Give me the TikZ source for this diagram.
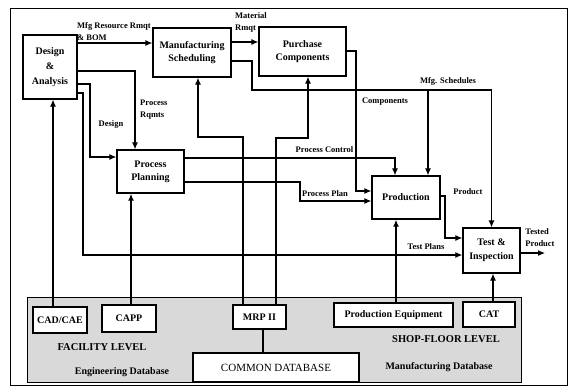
\documentclass[tikz,border=0pt]{standalone}
\usepackage{fontspec}
\setmainfont{Liberation Serif}
\usetikzlibrary{arrows.meta}

\begin{document}
\begin{tikzpicture}[x=1pt, y=-1pt, >={Latex[length=7pt,width=6pt]},
  box/.style={draw, line width=1.3pt, fill=white, align=center, inner sep=0pt,
    font=\fontsize{10}{13}\selectfont\bfseries},
  lbl/.style={font=\fontsize{8.5}{12}\selectfont\bfseries, inner sep=0pt},
  flow/.style={line width=1.1pt},
  feed/.style={line width=1.7pt}]
  \useasboundingbox (0,0) rectangle (578,389);
  % Outer frame
  \draw[line width=1pt] (10,8) rectangle (567,385);
  % Functions
  \node[box, minimum width=54pt, minimum height=64pt, font=\fontsize{10}{15}\selectfont\bfseries] (da) at (50,67) {Design\\\&\\Analysis};
  \node[box, minimum width=78pt, minimum height=49pt] (ms) at (192,52.5) {Manufacturing\\Scheduling};
  \node[box, minimum width=87pt, minimum height=49pt] (pc) at (302.5,51.5) {Purchase\\Components};
  \node[box, minimum width=67pt, minimum height=43pt] (pp) at (150.5,171.5) {Process\\Planning};
  \node[box, minimum width=68pt, minimum height=43pt] (prod) at (406,197.5) {Production};
  \node[box, minimum width=57pt, minimum height=45pt, font=\fontsize{10}{14}\selectfont\bfseries] (ti) at (491.5,250.5) {Test \&\\Inspection};
  % Database levels
  \node[draw, line width=1pt, fill=gray!30, minimum width=494pt, minimum height=85pt] (panel) at (274,339.5) {};
  \node[box, minimum width=54pt, minimum height=26pt] (cad) at (60,320) {CAD/CAE};
  \node[box, minimum width=54pt, minimum height=27pt] (capp) at (129,318.5) {CAPP};
  \node[box, minimum width=53pt, minimum height=24pt] (mrp) at (259.5,317) {MRP II};
  \node[box, minimum width=119pt, minimum height=24pt] (peq) at (393.5,315) {Production Equipment};
  \node[box, minimum width=52pt, minimum height=25pt] (cat) at (489,314.5) {CAT};
  \node[box, minimum width=166pt, minimum height=29pt, font=\fontsize{11}{13}\selectfont] (cdb) at (276,367.5) {COMMON DATABASE};
  \node[font=\fontsize{10.5}{12}\selectfont\bfseries] (faclvl) at (102,347) {FACILITY LEVEL};
  \node[font=\fontsize{10}{12}\selectfont\bfseries] (engdb) at (122,372) {Engineering Database};
  \node[font=\fontsize{10.5}{12}\selectfont\bfseries] (shoplvl) at (446,339) {SHOP-FLOOR LEVEL};
  \node[font=\fontsize{10}{12}\selectfont\bfseries] (mfgdb) at (439,367) {Manufacturing Database};
  % Flows from Design & Analysis
  \draw[flow, ->] (da.east |- 0,43) -- (ms.west |- 0,43);
  \node[lbl, align=left, anchor=south west] (resrmqt) at (77,41) {Mfg Resource Rmqt\\\& BOM};
  \draw[flow, ->] (da.east |- 0,71) -| (135,0 |- pp.north);
  \node[lbl, align=left, anchor=north west] (procrqmts) at (140,100) {Process\\Rqmts};
  \draw[flow, ->] (da.east |- 0,84) -| (90,157) -- (pp.west |- 0,157);
  \node[lbl] (designlbl) at (111,124) {Design};
  \draw[flow, ->] (da.east |- 0,93) -| (83,255) -- (ti.west |- 0,255);
  \node[lbl] (testplans) at (426,247) {Test Plans};
  % Scheduling and purchasing
  \draw[flow, ->] (ms.east |- 0,42) -- (pc.west |- 0,42);
  \node[lbl, align=left, anchor=south west] (matrmqt) at (235,33) {Material\\Rmqt};
  \coordinate (schedjoin) at (428,90);
  \draw[flow, ->] (ms.east |- 0,61) -| (252,90) -| (ti.north);
  \draw[flow, ->] (schedjoin) -- (schedjoin |- prod.north);
  \node[lbl] (mfgsched) at (448,81) {Mfg. Schedules};
  \draw[flow, ->] (pc.east |- 0,51) -| (356,191) -- (prod.west |- 0,191);
  \node[lbl] (complbl) at (385,102) {Components};
  % Process planning outputs
  \draw[flow, ->] (pp.east |- 0,158) -| (395,0 |- prod.north);
  \node[lbl] (procctrl) at (324.5,150) {Process Control};
  \draw[flow, ->] (pp.east |- 0,182) -| (300,201) -- (prod.west |- 0,201);
  \node[lbl] (procplan) at (325,194) {Process Plan};
  % Production to test
  \draw[flow, ->] (prod.east |- 0,196) -| (445,238) -- (ti.west |- 0,238);
  \node[lbl] (product) at (468,192) {Product};
  \coordinate (out) at (545,253);
  \draw[flow, ->] (ti.east |- out) -- (out);
  \node[lbl, align=left] (tested) at (540,238) {Tested\\Product};
  % Feeds from the database level
  \draw[flow, ->] (53,0 |- cad.north) -- (53,0 |- da.south);
  \draw[feed, ->] (131,0 |- capp.north) -- (131,0 |- pp.south);
  \draw[flow, ->] (243,0 |- mrp.north) |- (198,137) -- (198,0 |- ms.south);
  \draw[flow, ->] (276,0 |- mrp.north) |- (308,138) -- (308,0 |- pc.south);
  \draw[feed, ->] (396,0 |- peq.north) -- (396,0 |- prod.south);
  \draw[flow, ->] (493,0 |- cat.north) -- (493,0 |- ti.south);
  \draw[flow] (263,0 |- mrp.south) -- (263,0 |- cdb.north);
\end{tikzpicture}
\end{document}
